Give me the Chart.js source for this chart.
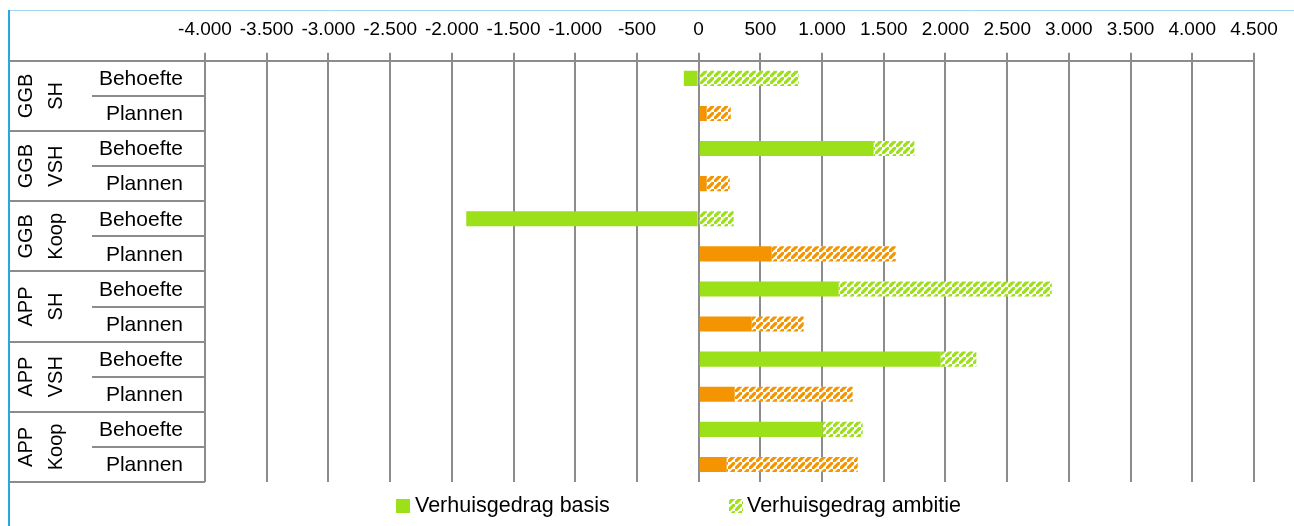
<!DOCTYPE html>
<html>
<head>
<meta charset="utf-8">
<script src="https://cdn.jsdelivr.net/npm/chart.js@4/dist/chart.umd.min.js"></script>
<style>
  html, body { margin: 0; padding: 0; background: #fff; }
  #wrap { width: 1294px; height: 526px; }
</style>
</head>
<body>
<div id="wrap"><canvas id="chart" width="1294" height="526"></canvas></div>
<script>
// data
const groups = [["GGB", "SH"], ["GGB", "VSH"], ["GGB", "Koop"], ["APP", "SH"], ["APP", "VSH"], ["APP", "Koop"]];
const subLabels = ["Behoefte", "Plannen"];
const basisValues = [-120, 65, 1418, 65, -1883, 592, 1135, 430, 1961, 292, 1005, 227];
const ambitieValues = [810, 195, 330, 186, 284, 1005, 1726, 421, 289, 956, 324, 1062];
const seriesNames = ["Verhuisgedrag basis", "Verhuisgedrag ambitie"];
const xMin = -4000, xMax = 4500, xStep = 500;

const GREEN = "#9be018";
const ORANGE = "#f39400";
const GRID = "#8c8c8c";
const FONT = "'Liberation Sans', Arial, sans-serif";

const categories = [];
groups.forEach((g) => subLabels.forEach((s) => categories.push(g.join(" ") + " " + s)));

function hatch(color) {
  const n = 7;
  const c = document.createElement("canvas");
  c.width = n; c.height = n;
  const g = c.getContext("2d");
  g.fillStyle = "#fff";
  g.fillRect(0, 0, n, n);
  g.strokeStyle = color;
  g.lineWidth = 3.2;
  g.beginPath();
  g.moveTo(-1, n + 1); g.lineTo(n + 1, -1);
  g.moveTo(-n - 1, 1); g.lineTo(1, -n - 1);
  g.moveTo(n - 1, 2 * n + 1); g.lineTo(2 * n + 1, n - 1);
  g.stroke();
  return g.createPattern(c, "repeat");
}

const greenHatch = hatch(GREEN);
const orangeHatch = hatch(ORANGE);
const isBehoefte = categories.map((c, i) => i % 2 === 0);

function fmt(v) {
  const s = Math.abs(v).toString().replace(/\B(?=(\d{3})+(?!\d))/g, ".");
  return (v < 0 ? "-" : "") + s;
}

// left table with the two-level category labels, the frame and the legend
const tablePlugin = {
  id: "table",
  afterDraw(chart) {
    const ctx = chart.ctx;
    const y = chart.scales.y;
    const area = chart.chartArea;
    const L = 8;
    ctx.save();
    ctx.strokeStyle = GRID;
    ctx.lineWidth = 2;
    ctx.fillStyle = "#000";
    // group separators
    for (let gi = 0; gi <= groups.length; gi++) {
      const py = Math.round(y.getPixelForValue(gi * 2 - 0.5));
      ctx.beginPath(); ctx.moveTo(L, py); ctx.lineTo(area.left, py); ctx.stroke();
    }
    groups.forEach((g, gi) => {
      const mid = Math.round(y.getPixelForValue(gi * 2 + 0.5));
      ctx.beginPath(); ctx.moveTo(92, mid); ctx.lineTo(area.left, mid); ctx.stroke();
      const cy = y.getPixelForValue(gi * 2 + 0.5);
      ctx.font = "20px " + FONT;
      ctx.textAlign = "center";
      ctx.textBaseline = "middle";
      g.forEach((t, k) => {
        ctx.save();
        ctx.translate(25 + k * 30, cy);
        ctx.rotate(-Math.PI / 2);
        ctx.fillText(t, 0, 1);
        ctx.restore();
      });
    });
    ctx.font = "21px " + FONT;
    ctx.textAlign = "right";
    ctx.textBaseline = "middle";
    categories.forEach((c, i) => {
      ctx.fillText(subLabels[i % 2], 183, y.getPixelForValue(i) + 1);
    });
    // chart frame
    ctx.strokeStyle = "#9fd6f0";
    ctx.lineWidth = 1;
    ctx.beginPath(); ctx.moveTo(8, 10.5); ctx.lineTo(1294, 10.5); ctx.stroke();
    ctx.strokeStyle = "#2aa6df";
    ctx.lineWidth = 2;
    ctx.beginPath(); ctx.moveTo(9, 10); ctx.lineTo(9, 526); ctx.stroke();
    // legend
    ctx.font = "21.5px " + FONT;
    ctx.textAlign = "left";
    ctx.textBaseline = "middle";
    ctx.fillStyle = GREEN;
    ctx.fillRect(396, 499, 14, 14);
    ctx.fillStyle = "#000";
    ctx.fillText(seriesNames[0], 415, 506);
    ctx.fillStyle = greenHatch;
    ctx.fillRect(729, 499, 14, 14);
    ctx.fillStyle = "#000";
    ctx.fillText(seriesNames[1], 747, 506);
    ctx.restore();
  }
};

Chart.defaults.font.family = FONT;
Chart.defaults.color = "#000";

new Chart(document.getElementById("chart"), {
  type: "bar",
  data: {
    labels: categories,
    datasets: [
      {
        label: seriesNames[0],
        data: basisValues,
        backgroundColor: isBehoefte.map((b) => (b ? GREEN : ORANGE)),
        borderWidth: 0,
        categoryPercentage: 1,
        barPercentage: 0.43
      },
      {
        label: seriesNames[1],
        data: ambitieValues,
        backgroundColor: isBehoefte.map((b) => (b ? greenHatch : orangeHatch)),
        borderWidth: 0,
        categoryPercentage: 1,
        barPercentage: 0.43
      }
    ]
  },
  options: {
    indexAxis: "y",
    responsive: false,
    animation: false,
    layout: { padding: { left: 205, right: 40, top: 6, bottom: 44 } },
    plugins: { legend: { display: false }, tooltip: { enabled: false } },
    scales: {
      x: {
        position: "top",
        stacked: true,
        min: xMin,
        max: xMax,
        ticks: {
          stepSize: xStep,
          padding: 12,
          maxRotation: 0,
          autoSkip: false,
          font: { size: 19 },
          color: "#000",
          callback: (v) => fmt(v)
        },
        grid: { color: GRID, lineWidth: 2, tickLength: 8 },
        border: { display: true, color: GRID, width: 2 }
      },
      y: {
        stacked: true,
        display: false
      }
    }
  },
  plugins: [tablePlugin]
});
</script>
</body>
</html>
